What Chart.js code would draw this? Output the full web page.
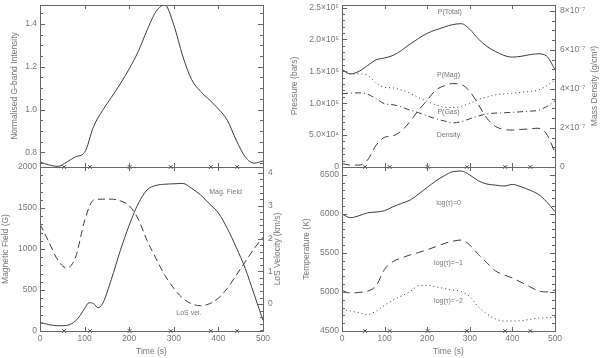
<!DOCTYPE html>
<html>
<head>
<meta charset="utf-8">
<title>Bright point time series</title>
<script src="https://cdn.jsdelivr.net/npm/chart.js@4.4.1/dist/chart.umd.min.js"></script>
<style>
  body { margin: 0; background: #fff; }
  #wrap { position: relative; width: 600px; height: 358px; }
  #wrap canvas { position: absolute; left: 0; top: 0; }
</style>
</head>
<body>
<div id="wrap">
  <canvas id="gbandChart" width="600" height="358"></canvas>
  <canvas id="fieldChart" width="600" height="358"></canvas>
  <canvas id="pressChart" width="600" height="358"></canvas>
  <canvas id="tempChart" width="600" height="358"></canvas>
</div>
<script>
// sample times (s)
const times = [0, 20, 40, 60, 80, 100, 120, 140, 160, 180, 200, 220, 240, 260, 280, 300, 320, 340, 360, 380, 400, 420, 440, 460, 480, 500];
const fieldTimes = [0, 20, 40, 60, 80, 90, 100, 110, 120, 130, 140, 160, 180, 200, 220, 240, 260, 280, 300, 320, 340, 360, 380, 400, 420, 440, 460, 480, 500];
const markTimes = [54, 112, 201, 293, 383, 442];

const gband = [0.755, 0.742, 0.735, 0.755, 0.78, 0.80, 0.92, 0.995, 1.057, 1.12, 1.19, 1.27, 1.37, 1.457, 1.488, 1.395, 1.25, 1.14, 1.085, 1.045, 1.003, 0.95, 0.857, 0.78, 0.75, 0.76];
const field = [105, 78, 64, 68, 125, 190, 275, 345, 335, 285, 330, 630, 980, 1290, 1550, 1720, 1775, 1790, 1795, 1800, 1740, 1660, 1550, 1440, 1250, 1020, 765, 450, 130];
const losVel = [2.44, 1.89, 1.34, 1.10, 1.44, 2.54, 3.17, 3.20, 3.20, 3.15, 3.00, 2.60, 1.94, 1.39, 0.88, 0.48, 0.18, 0.01, -0.05, 0.01, 0.18, 0.48, 0.88, 1.29, 1.69, 2.04];
const pTotal = [1.53e5, 1.46e5, 1.50e5, 1.59e5, 1.68e5, 1.71e5, 1.75e5, 1.83e5, 1.929e5, 2.017e5, 2.096e5, 2.149e5, 2.194e5, 2.233e5, 2.247e5, 2.159e5, 2.008e5, 1.89e5, 1.812e5, 1.75e5, 1.723e5, 1.735e5, 1.76e5, 1.775e5, 1.74e5, 1.53e5];
const pMag = [5.5e3, 3e3, 3e3, 1.1e4, 3.4e4, 4.66e4, 4.9e4, 5.69e4, 7.16e4, 8.92e4, 1.048e5, 1.205e5, 1.273e5, 1.308e5, 1.293e5, 1.186e5, 9.8e4, 7.65e4, 6.37e4, 5.89e4, 5.79e4, 5.89e4, 5.98e4, 6.08e4, 5.2e4, 2.3e4];
const pGas = [1.508e5, 1.459e5, 1.459e5, 1.44e5, 1.313e5, 1.249e5, 1.24e5, 1.205e5, 1.156e5, 1.088e5, 1.029e5, 9.75e4, 9.41e4, 9.31e4, 9.51e4, 9.99e4, 1.058e5, 1.097e5, 1.131e5, 1.146e5, 1.156e5, 1.171e5, 1.185e5, 1.205e5, 1.273e5, 1.362e5];
// mass density in units of 10^-7 g/cm^3
const density = [3.76, 3.78, 3.80, 3.73, 3.50, 3.24, 3.19, 3.07, 2.91, 2.78, 2.62, 2.47, 2.36, 2.26, 2.33, 2.47, 2.61, 2.72, 2.76, 2.78, 2.80, 2.83, 2.86, 2.90, 3.09, 3.39];
const tempTau0 = [5998, 5951, 5976, 6014, 6023, 6040, 6092, 6134, 6177, 6254, 6339, 6420, 6488, 6540, 6548, 6497, 6424, 6382, 6368, 6356, 6377, 6348, 6305, 6254, 6156, 6028];
const tempTau1 = [5020, 4985, 4995, 5010, 5080, 5290, 5390, 5435, 5475, 5505, 5540, 5580, 5620, 5650, 5665, 5600, 5480, 5375, 5270, 5220, 5178, 5125, 5070, 5015, 5000, 5025];
const tempTau2 = [4780, 4755, 4735, 4710, 4755, 4830, 4897, 4950, 5005, 5080, 5085, 5065, 5045, 5025, 5005, 4940, 4810, 4720, 4655, 4628, 4628, 4632, 4648, 4665, 4672, 4675];

// tick values and labels
const timeTicks = [0, 100, 200, 300, 400, 500];
const gbandTicks = [0.8, 1.0, 1.2, 1.4];
const fieldTicks = [0, 500, 1000, 1500, 2000];
const velTicks = [0, 1, 2, 3, 4];
const pressTicks = [0, 5e4, 1e5, 1.5e5, 2e5, 2.5e5];
const pressLabels = ['0', '5.0×10⁴', '1.0×10⁵', '1.5×10⁵', '2.0×10⁵', '2.5×10⁵'];
const densTicks = [0, 2, 4, 6, 8];
const densLabels = ['0', '2×10⁻⁷', '4×10⁻⁷', '6×10⁻⁷', '8×10⁻⁷'];
const tempTicks = [4500, 5000, 5500, 6000, 6500];

const ink = '#3c3c3c';
const grey = '#777';
const font = { family: 'Liberation Sans', size: 8.5 };

const pts = (xs, ys) => xs.map((x, i) => ({ x: x, y: ys[i] }));

function zeroPad(s) {
    s.paddingLeft = 0; s.paddingRight = 0; s.paddingTop = 0; s.paddingBottom = 0;
}

function curve(data, dash, axis) {
    return {
        data: data,
        borderColor: ink,
        borderWidth: 1,
        borderDash: dash || [],
        pointRadius: 0,
        cubicInterpolationMode: 'monotone',
        yAxisID: axis || 'y'
    };
}

// the x marks sitting on the bottom edge of each panel
function crosses(yVal) {
    return {
        data: markTimes.map(t => ({ x: t, y: yVal })),
        showLine: false,
        pointStyle: 'crossRot',
        pointRadius: 2.5,
        borderColor: ink,
        borderWidth: 1,
        clip: false
    };
}

function xScale(showLabels) {
    return {
        type: 'linear', min: 0, max: 500,
        afterBuildTicks: s => { s.ticks = timeTicks.map(v => ({ value: v })); },
        afterFit: s => { s.height = showLabels ? 27 : 0; zeroPad(s); },
        grid: { display: false, drawTicks: false },
        border: { display: false },
        ticks: { display: showLabels, font: font, color: grey, padding: 3, maxRotation: 0, autoSkip: false },
        title: { display: showLabels, text: 'Time (s)', font: font, color: grey, padding: { top: 0, bottom: 1 } }
    };
}

function yScale(pos, min, max, vals, width, fmt, title, titlePad) {
    return {
        type: 'linear', position: pos, min: min, max: max,
        afterBuildTicks: s => { s.ticks = vals.map(v => ({ value: v })); },
        afterFit: s => { s.width = width; zeroPad(s); },
        grid: { display: false, drawTicks: false },
        border: { display: false },
        ticks: { font: font, color: grey, padding: pos === 'left' ? 3 : 5, autoSkip: false, callback: v => fmt(v) },
        title: { display: !!title, text: title || '', font: font, color: grey, padding: { top: titlePad, bottom: 0 } }
    };
}

// box, inward ticks, in-plot labels and right-hand titles
const frame = {
    id: 'frame',
    afterDraw(chart, args, o) {
        const { ctx, chartArea: a, scales } = chart;
        ctx.save();
        ctx.strokeStyle = '#666';
        ctx.lineWidth = 1;
        ctx.strokeRect(a.left + 0.5, a.top + 0.5, a.right - a.left, a.bottom - a.top);
        const seg = (x1, y1, x2, y2) => { ctx.beginPath(); ctx.moveTo(x1, y1); ctx.lineTo(x2, y2); ctx.stroke(); };

        timeTicks.forEach(v => {
            const px = Math.round(scales.x.getPixelForValue(v)) + 0.5;
            seg(px, a.bottom, px, a.bottom - 4);
            seg(px, a.top, px, a.top + 4);
        });

        o.yTicks.forEach(([id, major, minor, side]) => {
            const s = scales[id];
            const n0 = Math.ceil(s.min / minor - 1e-6), n1 = Math.floor(s.max / minor + 1e-6);
            for (let n = n0; n <= n1; n++) {
                const v = n * minor;
                const len = Math.abs(v / major - Math.round(v / major)) < 1e-6 ? 5 : 3;
                const py = Math.round(s.getPixelForValue(v)) + 0.5;
                if (side !== 'right') seg(a.left, py, a.left + len, py);
                if (side !== 'left') seg(a.right, py, a.right - len, py);
            }
        });

        ctx.fillStyle = grey;
        ctx.textAlign = 'center';
        ctx.textBaseline = 'middle';
        ctx.font = '7px "Liberation Sans"';
        (o.notes || []).forEach(n => {
            ctx.fillText(n.text, scales.x.getPixelForValue(n.t), scales[n.axis || 'y'].getPixelForValue(n.v));
        });

        if (o.rightTitle) {
            ctx.font = '8.5px "Liberation Sans"';
            ctx.translate(o.rightTitle.x, (a.top + a.bottom) / 2);
            ctx.rotate(-Math.PI / 2);
            ctx.fillText(o.rightTitle.text, 0, 0);
        }
        ctx.restore();
    }
};

function common(padding, scales, frameOpts) {
    return {
        responsive: false,
        animation: false,
        devicePixelRatio: 1,
        events: [],
        layout: { padding: padding },
        plugins: { legend: { display: false }, tooltip: { enabled: false }, frame: frameOpts },
        scales: scales
    };
}

// G-band intensity
new Chart(document.getElementById('gbandChart'), {
    type: 'line',
    data: { datasets: [curve(pts(times, gband)), crosses(0.732)] },
    options: common({ left: 0, top: 4, right: 337, bottom: 191 }, {
        x: xScale(false),
        y: yScale('left', 0.732, 1.488, gbandTicks, 40, v => v.toFixed(1), 'Normalised G-band Intensity', 10)
    }, { yTicks: [['y', 0.2, 0.05, 'both']] }),
    plugins: [frame]
});

// magnetic field and LoS velocity
new Chart(document.getElementById('fieldChart'), {
    type: 'line',
    data: {
        datasets: [
            curve(pts(fieldTimes, field)),
            curve(pts(times, losVel), [7, 4], 'y2'),
            crosses(0)
        ]
    },
    options: common({ left: 0, top: 167, right: 312, bottom: 0 }, {
        x: xScale(true),
        y: yScale('left', 0, 2000, fieldTicks, 40, String, 'Magnetic Field (G)', 1),
        y2: yScale('right', -0.82, 4.18, velTicks, 25, String, null, 0)
    }, {
        yTicks: [['y', 500, 100, 'left'], ['y2', 1, 0.2, 'right']],
        notes: [{ text: 'Mag. Field', t: 416, v: 1699 }, { text: 'LoS vel.', t: 334, v: 223 }],
        rightTitle: { text: 'LoS Velocity (km/s)', x: 278 }
    }),
    plugins: [frame]
});

// pressures and mass density
new Chart(document.getElementById('pressChart'), {
    type: 'line',
    data: {
        datasets: [
            curve(pts(times, pTotal)),
            curve(pts(times, pMag), [8, 5]),
            curve(pts(times, pGas), [1, 3]),
            curve(pts(times, density), [6, 3, 1, 3], 'y2'),
            crosses(0)
        ]
    },
    options: common({ left: 285, top: 4, right: 0, bottom: 191 }, {
        x: xScale(false),
        y: yScale('left', 0, 2.54e5, pressTicks, 57, v => pressLabels[pressTicks.indexOf(v)], 'Pressure (bars)', 5),
        y2: yScale('right', 0, 8.3, densTicks, 45, v => densLabels[densTicks.indexOf(v)], null, 0)
    }, {
        yTicks: [['y', 5e4, 1e4, 'left'], ['y2', 2, 0.5, 'right']],
        notes: [
            { text: 'P(Total)', t: 253, v: 2.43e5 },
            { text: 'P(Mag)', t: 250, v: 1.449e5 },
            { text: 'P(Gas)', t: 250, v: 8.57e4 },
            { text: 'Density', t: 250, v: 4.99e4 }
        ],
        rightTitle: { text: 'Mass Density (g/cm³)', x: 595 }
    }),
    plugins: [frame]
});

// temperatures at three optical depths
new Chart(document.getElementById('tempChart'), {
    type: 'line',
    data: {
        datasets: [
            curve(pts(times, tempTau0)),
            curve(pts(times, tempTau1), [8, 5]),
            curve(pts(times, tempTau2), [1, 3]),
            crosses(4500)
        ]
    },
    options: common({ left: 285, top: 167, right: 45, bottom: 0 }, {
        x: xScale(true),
        y: yScale('left', 4500, 6600, tempTicks, 57, String, 'Temperature (K)', 17)
    }, {
        yTicks: [['y', 500, 100, 'both']],
        notes: [
            { text: 'log(τ)=0', t: 250, v: 6135 },
            { text: 'log(τ)=−1', t: 250, v: 5367 },
            { text: 'log(τ)=−2', t: 250, v: 4884 }
        ]
    }),
    plugins: [frame]
});
</script>
</body>
</html>
